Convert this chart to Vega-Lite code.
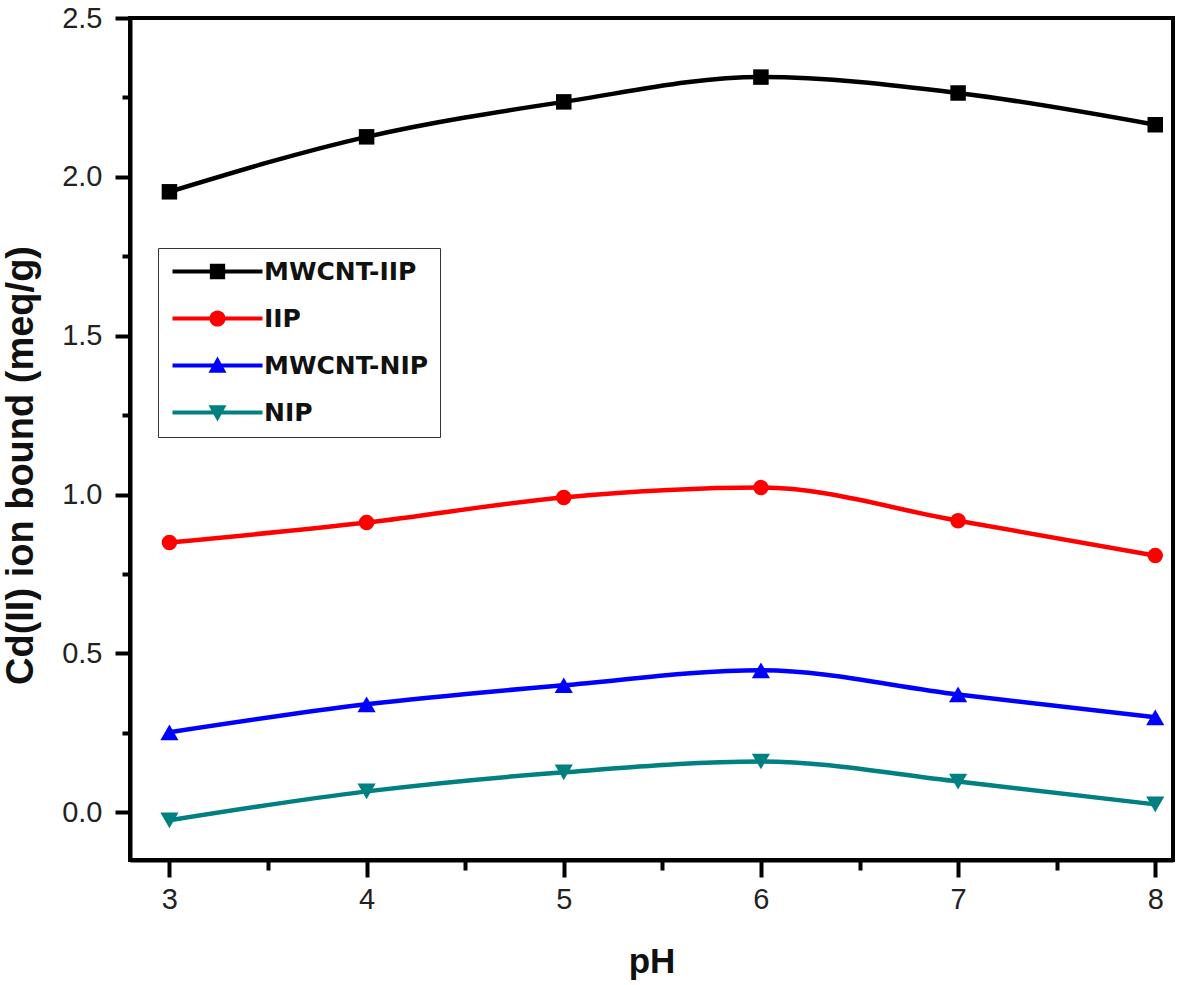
{
  "$schema": "https://vega.github.io/schema/vega-lite/v6.json",
  "width": 1043,
  "height": 842,
  "autosize": {"type": "none"},
  "padding": {"left": 130, "top": 18, "right": 8, "bottom": 125},
  "background": "white",
  "config": {
    "view": {"stroke": "black", "strokeWidth": 4},
    "axis": {"grid": false}
  },
  "data": {
    "values": [
      {"pH": 3, "series": "MWCNT-IIP", "value": 1.953},
      {"pH": 4, "series": "MWCNT-IIP", "value": 2.126},
      {"pH": 5, "series": "MWCNT-IIP", "value": 2.236},
      {"pH": 6, "series": "MWCNT-IIP", "value": 2.314},
      {"pH": 7, "series": "MWCNT-IIP", "value": 2.264},
      {"pH": 8, "series": "MWCNT-IIP", "value": 2.164},
      {"pH": 3, "series": "IIP", "value": 0.849},
      {"pH": 4, "series": "IIP", "value": 0.912},
      {"pH": 5, "series": "IIP", "value": 0.991},
      {"pH": 6, "series": "IIP", "value": 1.022},
      {"pH": 7, "series": "IIP", "value": 0.918},
      {"pH": 8, "series": "IIP", "value": 0.808},
      {"pH": 3, "series": "MWCNT-NIP", "value": 0.252},
      {"pH": 4, "series": "MWCNT-NIP", "value": 0.34},
      {"pH": 5, "series": "MWCNT-NIP", "value": 0.40},
      {"pH": 6, "series": "MWCNT-NIP", "value": 0.447},
      {"pH": 7, "series": "MWCNT-NIP", "value": 0.371},
      {"pH": 8, "series": "MWCNT-NIP", "value": 0.299},
      {"pH": 3, "series": "NIP", "value": -0.025},
      {"pH": 4, "series": "NIP", "value": 0.066},
      {"pH": 5, "series": "NIP", "value": 0.126},
      {"pH": 6, "series": "NIP", "value": 0.16},
      {"pH": 7, "series": "NIP", "value": 0.097},
      {"pH": 8, "series": "NIP", "value": 0.025}
    ]
  },
  "resolve": {"axis": {"x": "independent", "y": "independent"}},
  "layer": [
    {
      "transform": [{"filter": "datum.series === 'MWCNT-IIP'"}],
      "mark": {"type": "point", "filled": true, "opacity": 1, "shape": "square", "size": 240},
      "encoding": {
        "x": {
          "field": "pH", "type": "quantitative",
          "scale": {"domain": [2.8, 8.09], "nice": false, "zero": false},
          "axis": {
            "orient": "bottom",
            "values": [3, 4, 5, 6, 7, 8],
            "format": "d",
            "title": "pH",
            "titleFont": "Liberation Sans", "titleFontSize": 35, "titleFontWeight": "bold", "titleColor": "#111",
            "titleY": 112, "titleBaseline": "alphabetic",
            "labelFont": "Liberation Sans", "labelFontSize": 29, "labelColor": "#222", "labelPadding": 8,
            "domainColor": "black", "domainWidth": 4,
            "tickColor": "black", "tickWidth": 4, "tickSize": 17
          }
        },
        "y": {
          "field": "value", "type": "quantitative",
          "scale": {"domain": [-0.15, 2.5], "nice": false, "zero": false},
          "axis": {
            "orient": "left",
            "values": [0, 0.5, 1, 1.5, 2, 2.5],
            "format": ".1f",
            "title": "Cd(II) ion bound (meq/g)",
            "titleFont": "Liberation Sans", "titleFontSize": 38, "titleFontWeight": "bold", "titleColor": "#111",
            "titleX": -98, "titleY": 447, "titleAngle": -90, "titleAlign": "center", "titleBaseline": "alphabetic",
            "labelFont": "Liberation Sans", "labelFontSize": 29, "labelColor": "#222", "labelPadding": 13,
            "domainColor": "black", "domainWidth": 4,
            "tickColor": "black", "tickWidth": 4, "tickSize": 15
          }
        },
        "color": {
          "field": "series", "type": "nominal",
          "scale": {"domain": ["MWCNT-IIP", "IIP", "MWCNT-NIP", "NIP"], "range": ["#000000", "#ff0000", "#0000ff", "#008080"]},
          "legend": {
            "title": null, "orient": "none", "legendX": 28, "legendY": 230,
            "padding": 11, "strokeColor": "#333", "fillColor": "white",
            "rowPadding": 21, "symbolSize": 324, "symbolStrokeWidth": 0, "labelOffset": 70,
            "labelFont": "DejaVu Sans", "labelFontSize": 25, "labelFontWeight": "bold", "labelColor": "#111", "labelLimit": 400,
            "symbolType": {"expr": "datum.value === 'MWCNT-IIP' ? 'M-1,-0.22L9,-0.22L9,0.22L-1,0.22Z M3.15,-0.85L4.85,-0.85L4.85,0.85L3.15,0.85Z' : datum.value === 'IIP' ? 'M-1,-0.22L9,-0.22L9,0.22L-1,0.22Z M3.1,0A0.9,0.9 0 1,1 4.9,0A0.9,0.9 0 1,1 3.1,0Z' : datum.value === 'MWCNT-NIP' ? 'M-1,-0.22L9,-0.22L9,0.22L-1,0.22Z M4,-1L5,0.8L3,0.8Z' : 'M-1,-0.22L9,-0.22L9,0.22L-1,0.22Z M4,1L3,-0.8L5,-0.8Z'"}
          }
        }
      }
    },
    {
      "mark": {"type": "line", "strokeWidth": 4.5, "interpolate": "monotone"},
      "encoding": {
        "x": {
          "field": "pH", "type": "quantitative",
          "scale": {"domain": [2.8, 8.09], "nice": false, "zero": false},
          "axis": {
            "orient": "bottom", "values": [3.5, 4.5, 5.5, 6.5, 7.5],
            "labels": false, "title": null, "domain": false,
            "tickColor": "black", "tickWidth": 4, "tickSize": 10
          }
        },
        "y": {
          "field": "value", "type": "quantitative",
          "scale": {"domain": [-0.15, 2.5], "nice": false, "zero": false},
          "axis": {
            "orient": "left", "values": [0.25, 0.75, 1.25, 1.75, 2.25],
            "labels": false, "title": null, "domain": false,
            "tickColor": "black", "tickWidth": 4, "tickSize": 8
          }
        },
        "color": {"field": "series", "type": "nominal"},
        "detail": {"field": "series"}
      }
    },
    {
      "transform": [{"filter": "datum.series === 'IIP'"}],
      "mark": {"type": "point", "filled": true, "opacity": 1, "shape": "circle", "size": 240},
      "encoding": {
        "x": {"field": "pH", "type": "quantitative", "axis": null},
        "y": {"field": "value", "type": "quantitative", "axis": null},
        "color": {"field": "series", "type": "nominal"}
      }
    },
    {
      "transform": [{"filter": "datum.series === 'MWCNT-NIP'"}],
      "mark": {"type": "point", "filled": true, "opacity": 1, "shape": "triangle-up", "size": 330},
      "encoding": {
        "x": {"field": "pH", "type": "quantitative", "axis": null},
        "y": {"field": "value", "type": "quantitative", "axis": null},
        "color": {"field": "series", "type": "nominal"}
      }
    },
    {
      "transform": [{"filter": "datum.series === 'NIP'"}],
      "mark": {"type": "point", "filled": true, "opacity": 1, "shape": "triangle-down", "size": 330},
      "encoding": {
        "x": {"field": "pH", "type": "quantitative", "axis": null},
        "y": {"field": "value", "type": "quantitative", "axis": null},
        "color": {"field": "series", "type": "nominal"}
      }
    }
  ]
}
